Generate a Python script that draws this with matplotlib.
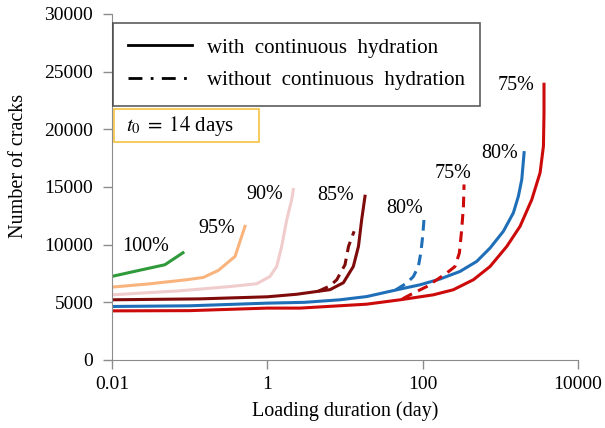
import matplotlib
matplotlib.use('Agg')
import matplotlib.pyplot as plt
from matplotlib.lines import Line2D
from matplotlib.patches import Rectangle

plt.rcParams['font.family'] = ['Liberation Serif', 'DejaVu Serif']
plt.rcParams['mathtext.fontset'] = 'stix'

# crack count vs loading duration, t0 = 14 days
# solid: with continuous hydration
rh100_x = [0.01, 0.02, 0.048, 0.082]
rh100_y = [7250, 7700, 8260, 9300]

rh95_x = [0.01, 0.03, 0.0916, 0.15, 0.234, 0.384, 0.516]
rh95_y = [6320, 6600, 6960, 7160, 7770, 8980, 11590]

rh90_x = [0.01, 0.075, 0.331, 0.73, 1.08, 1.32, 1.53, 1.78, 2.06, 2.16]
rh90_y = [5650, 6000, 6370, 6610, 7240, 8110, 9850, 12170, 13910, 14780]

rh85_x = [0.01, 0.135, 1.0, 2.39, 6.42, 9.53, 12.8, 14.9, 16.4, 18.1]
rh85_y = [5220, 5300, 5480, 5700, 6100, 6700, 8110, 9850, 12170, 14200]

rh80_x = [0.01, 0.1, 1, 3, 8.6, 19, 51.2, 92.5, 167, 303, 497, 738, 1094, 1472, 1708, 1888, 2023]
rh80_y = [4640, 4700, 4930, 5000, 5220, 5500, 6150, 6520, 7020, 7680, 8550, 9710, 11160, 12760, 14200, 15650, 17980]

rh75_x = [0.01, 0.1, 1, 2.64, 19, 51.2, 137, 248, 450, 738, 1211, 1795, 2541, 3250, 3590, 3650, 3650]
rh75_y = [4260, 4280, 4500, 4500, 4840, 5220, 5650, 6090, 6960, 8110, 9850, 11590, 13910, 16240, 18550, 21450, 23910]

# dashed: without continuous hydration
rh85d_x = [4.5, 6.42, 7.83, 10.0, 11.1, 13.1]
rh85d_y = [5950, 6430, 6960, 8260, 9850, 11160]

rh80d_x = [45, 62.4, 76, 88, 94.6, 100, 104]
rh80d_y = [6080, 6670, 7240, 8110, 9280, 10720, 12170]

rh75d_x = [55, 68.8, 113, 204, 261, 297, 318, 335, 341]
rh75d_y = [5300, 5650, 6370, 7540, 8110, 9280, 11300, 13330, 15220]

# label text and anchor (data coords)
labels = ['100%', '95%', '90%', '85%', '80%', '75%', '80%', '75%']
label_x = [0.0274, 0.225, 0.933, 7.67, 59.3, 246, 993, 1596]
label_y = [9830, 11390, 14350, 14260, 13130, 16170, 17910, 23830]

green = '#2F9A3A'
orange = '#F9B47E'
pink = '#F0CCCC'
maroon = '#7F0A0A'
blue = '#1F6FB8'
red = '#CC0A0A'

fig = plt.figure(figsize=(6.05, 4.28), dpi=100)
ax = fig.add_axes([112/605, 1-360/428, (578-112)/605, (360-14)/428])

lw = 2.2
ax.plot(rh100_x, rh100_y, color=green, lw=lw)
ax.plot(rh95_x, rh95_y, color=orange, lw=lw)
ax.plot(rh90_x, rh90_y, color=pink, lw=lw)
ax.plot(rh85_x, rh85_y, color=maroon, lw=lw)
ax.plot(rh80_x, rh80_y, color=blue, lw=lw)
ax.plot(rh75_x, rh75_y, color=red, lw=lw)

dash = (0, (3.5, 2.2))
ax.plot(rh85d_x, rh85d_y, color=maroon, lw=lw, linestyle=dash)
ax.plot(rh80d_x, rh80d_y, color=blue, lw=lw, linestyle=dash)
ax.plot(rh75d_x, rh75d_y, color=red, lw=lw, linestyle=dash)

for t, x, y in zip(labels, label_x, label_y):
    ax.text(x, y, t, fontsize=14.5, ha='center', va='center')

ax.set_xscale('log')
ax.set_xlim(0.01, 10000)
ax.set_ylim(0, 30000)
ax.set_xticks([0.01, 1, 100, 10000])
ax.set_xticklabels(['0.01', '1', '100', '10000'])
ax.xaxis.set_minor_locator(matplotlib.ticker.NullLocator())
ax.set_yticks(range(0, 30001, 5000))

for s in ['top', 'right']:
    ax.spines[s].set_visible(False)
for s in ['left', 'bottom']:
    ax.spines[s].set_color('#8c8c8c')
ax.tick_params(axis='both', colors='#8c8c8c', labelcolor='black',
               labelsize=14, length=6.5, width=1)
ax.tick_params(axis='x', pad=5)
ax.tick_params(axis='y', pad=7)

ax.set_xlabel('Loading duration (day)', fontsize=14.5, labelpad=6)
ax.set_ylabel('Number of cracks', fontsize=14.5)
ax.yaxis.set_label_coords(-0.18, 0.56)

handles = [Line2D([], [], color='black', lw=2),
           Line2D([], [], color='black', lw=2, linestyle=(0, (5, 3, 1, 3)))]
leg = ax.legend(handles, ['with  continuous  hydration', 'without  continuous  hydration'],
                loc='upper left', bbox_to_anchor=(113/605, 1-23/428), bbox_transform=fig.transFigure,
                fontsize=15.1, frameon=True, fancybox=False, handlelength=3.05,
                handletextpad=0.72, borderpad=0.72, labelspacing=0.62, borderaxespad=0)
leg.get_frame().set_edgecolor('#333333')
leg.get_frame().set_linewidth(1.2)

fig.patches.append(Rectangle((114/605, 1-142/428), 145/605, 33/428, transform=fig.transFigure,
                             facecolor='white', edgecolor='#F5C242', lw=1.2))
fig.text(126/605, 1-126/428, r'$t_0\;=\;14$ days', fontsize=15, va='center', ha='left')

fig.savefig('out.png', dpi=100)
